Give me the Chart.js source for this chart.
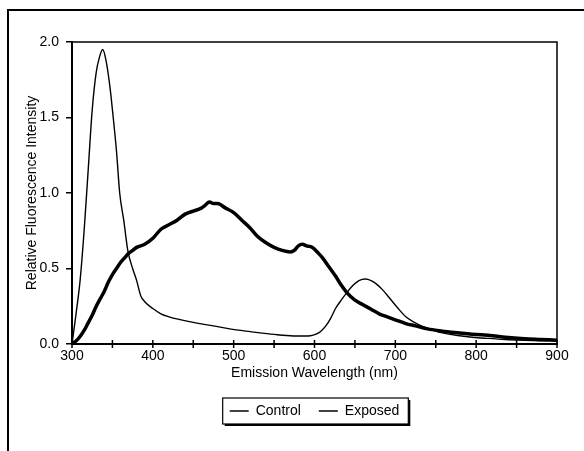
<!DOCTYPE html>
<html>
<head>
<meta charset="utf-8">
<script src="https://cdn.jsdelivr.net/npm/chart.js@4.4.0/dist/chart.umd.min.js"></script>
<style>
  html, body { margin: 0; padding: 0; background: #fff; }
  #wrap { width: 584px; height: 451px; }
</style>
</head>
<body>
<div id="wrap"><canvas id="spectrum" width="584" height="451"></canvas></div>
<script>
// Emission spectra
const controlWl = [300, 305, 310, 315, 320, 325, 330, 334, 338, 342, 347, 351, 355, 359, 364, 369, 375, 380, 385, 390, 400, 410, 420, 435, 453, 475, 495, 515, 536, 557, 577, 595, 602, 608, 614, 620, 626, 633, 640, 648, 655, 663, 670, 676, 684, 692, 702, 713, 723, 733, 744, 755, 775, 795, 815, 836, 860, 880, 900];
const controlVal = [0, 0.2, 0.42, 0.75, 1.15, 1.55, 1.8, 1.9, 1.95, 1.88, 1.7, 1.5, 1.28, 1.0, 0.82, 0.62, 0.5, 0.42, 0.32, 0.28, 0.235, 0.2, 0.18, 0.16, 0.14, 0.12, 0.1, 0.085, 0.072, 0.06, 0.053, 0.055, 0.065, 0.085, 0.12, 0.17, 0.235, 0.29, 0.34, 0.39, 0.42, 0.43, 0.42, 0.4, 0.36, 0.31, 0.245, 0.18, 0.145, 0.118, 0.095, 0.077, 0.058, 0.045, 0.037, 0.03, 0.025, 0.022, 0.02];

const exposedWl = [300, 305, 310, 315, 320, 325, 330, 335, 340, 345, 350, 355, 360, 365, 370, 375, 380, 390, 400, 410, 420, 430, 440, 450, 460, 465, 470, 475, 480, 490, 500, 510, 520, 530, 540, 550, 560, 570, 575, 580, 585, 590, 597, 605, 610, 618, 626, 633, 640, 650, 660, 670, 680, 690, 700, 713, 725, 740, 754, 770, 795, 820, 836, 860, 880, 900];
const exposedVal = [0, 0.02, 0.05, 0.09, 0.14, 0.19, 0.25, 0.3, 0.35, 0.41, 0.46, 0.5, 0.54, 0.57, 0.6, 0.62, 0.64, 0.66, 0.7, 0.76, 0.79, 0.82, 0.86, 0.88, 0.9, 0.92, 0.94, 0.93, 0.93, 0.9, 0.87, 0.82, 0.77, 0.71, 0.67, 0.64, 0.62, 0.61, 0.62, 0.65, 0.66, 0.65, 0.64, 0.6, 0.57, 0.51, 0.45, 0.39, 0.34, 0.29, 0.26, 0.23, 0.2, 0.18, 0.16, 0.135, 0.12, 0.1, 0.088, 0.078, 0.065, 0.055, 0.045, 0.035, 0.03, 0.025];

const seriesNames = ['Control', 'Exposed'];
const xTicks = [300, 400, 500, 600, 700, 800, 900];
const yTicks = [0, 0.5, 1.0, 1.5, 2.0];

const toPoints = (xs, ys) => xs.map((x, i) => ({ x: x, y: ys[i] }));

Chart.defaults.font.family = "'Liberation Sans', Arial, sans-serif";
Chart.defaults.font.size = 14;
Chart.defaults.color = '#000';

// page frame, plot box, crossing x tick marks, legend frame
const decor = {
    id: 'decor',
    afterLayout(chart) {
        // centre the legend under the plot, not the whole canvas
        const lg = chart.legend;
        const a = chart.chartArea;
        const h = lg.bottom - lg.top;
        lg.left = a.left;
        lg.right = a.right;
        lg.width = a.right - a.left;
        lg.top -= 8;
        lg.bottom = lg.top + h;
    },
    beforeDraw(chart) {
        const c = chart.ctx;
        c.save();
        c.fillStyle = '#fff';
        c.fillRect(0, 0, chart.width, chart.height);
        c.strokeStyle = '#000';
        c.lineWidth = 2;
        c.beginPath();
        c.moveTo(8, chart.height);
        c.lineTo(8, 10);
        c.lineTo(chart.width, 10);
        c.stroke();
        c.restore();
    },
    afterDraw(chart) {
        const c = chart.ctx;
        const a = chart.chartArea;
        const xs = chart.scales.x;
        c.save();
        c.strokeStyle = '#000';
        c.lineWidth = 1.5;
        c.beginPath();
        c.moveTo(a.left, a.top);
        c.lineTo(a.right, a.top);
        c.lineTo(a.right, a.bottom);
        c.stroke();
        xs.ticks.forEach(t => {
            const px = xs.getPixelForValue(t.value);
            c.beginPath();
            c.moveTo(px, a.bottom - 4);
            c.lineTo(px, a.bottom + 4);
            c.stroke();
        });
        const boxes = chart.legend.legendHitBoxes;
        if (boxes && boxes.length) {
            const first = boxes[0], last = boxes[boxes.length - 1];
            const l = first.left - 7, r = last.left + last.width + 9;
            const t = first.top - 6, b = first.top + first.height + 6;
            c.lineWidth = 1.2;
            c.strokeRect(l, t, r - l, b - t);
            c.lineWidth = 2;
            c.beginPath();
            c.moveTo(l + 2, b + 1);
            c.lineTo(r + 1, b + 1);
            c.lineTo(r + 1, t + 2);
            c.stroke();
        }
        c.restore();
    }
};

new Chart(document.getElementById('spectrum').getContext('2d'), {
    type: 'scatter',
    data: {
        datasets: [
            {
                label: seriesNames[0],
                data: toPoints(controlWl, controlVal),
                showLine: true,
                borderColor: '#000',
                backgroundColor: '#000',
                borderWidth: 1.4,
                pointRadius: 0,
                cubicInterpolationMode: 'monotone'
            },
            {
                label: seriesNames[1],
                data: toPoints(exposedWl, exposedVal),
                showLine: true,
                borderColor: '#000',
                backgroundColor: '#000',
                borderWidth: 3.5,
                pointRadius: 0,
                cubicInterpolationMode: 'monotone'
            }
        ]
    },
    options: {
        responsive: false,
        animation: false,
        events: [],
        layout: { padding: { top: 42, right: 27, bottom: 15, left: 0 } },
        plugins: {
            tooltip: { enabled: false },
            legend: {
                display: true,
                position: 'bottom',
                labels: {
                    usePointStyle: true,
                    pointStyle: 'line',
                    pointStyleWidth: 19,
                    padding: 18,
                    color: '#000',
                    generateLabels: chart => seriesNames.map((name, i) => ({
                        text: name,
                        datasetIndex: i,
                        pointStyle: 'line',
                        strokeStyle: '#000',
                        fillStyle: '#000',
                        lineWidth: 1.5,
                        fontColor: '#000'
                    }))
                }
            }
        },
        scales: {
            x: {
                type: 'linear',
                min: 300,
                max: 900,
                afterBuildTicks: s => {
                    const t = [];
                    for (let v = xTicks[0]; v <= xTicks[xTicks.length - 1]; v += 50) t.push({ value: v });
                    s.ticks = t;
                },
                afterFit: s => { s.height = 50; },
                ticks: {
                    autoSkip: false,
                    maxRotation: 0,
                    padding: 4,
                    callback: v => xTicks.includes(v) ? String(v) : ''
                },
                grid: { display: true, drawOnChartArea: false, drawTicks: false },
                border: { display: true, color: '#000', width: 2 },
                title: {
                    display: true,
                    text: 'Emission Wavelength (nm)',
                    padding: { top: 0, bottom: 12 }
                }
            },
            y: {
                min: 0,
                max: 2,
                afterBuildTicks: s => { s.ticks = yTicks.map(v => ({ value: v })); },
                afterFit: s => { s.width = 72; },
                ticks: {
                    padding: 7,
                    callback: v => Number(v).toFixed(1)
                },
                grid: { display: true, drawOnChartArea: false, drawTicks: true, tickLength: 6, color: '#000', lineWidth: 1.5 },
                border: { display: true, color: '#000', width: 2 },
                title: {
                    display: true,
                    text: 'Relative Fluorescence Intensity',
                    padding: { top: 24, bottom: 0 }
                }
            }
        }
    },
    plugins: [decor]
});
</script>
</body>
</html>
